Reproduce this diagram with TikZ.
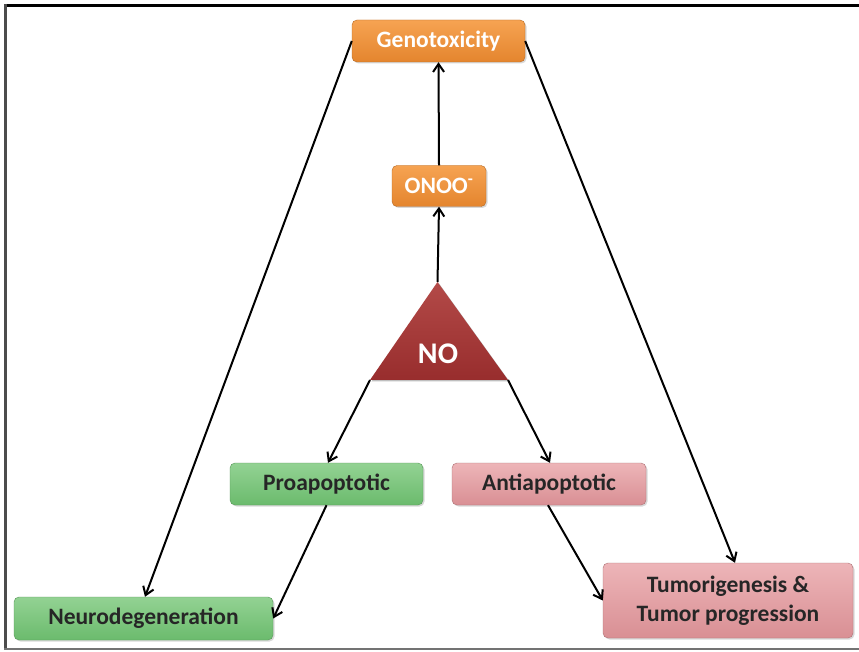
\documentclass[tikz,border=0pt]{standalone}
\usepackage{fontspec}
\setmainfont{Carlito}
\usetikzlibrary{arrows.meta,shadows}
\definecolor{orA}{HTML}{F6A352}
\definecolor{orB}{HTML}{E4852E}
\definecolor{grA}{HTML}{93D293}
\definecolor{grB}{HTML}{6BBB6D}
\definecolor{pkA}{HTML}{EDB5B8}
\definecolor{pkB}{HTML}{D98F94}
\definecolor{trA}{HTML}{B34A48}
\definecolor{trB}{HTML}{982D2D}
\tikzset{
  box/.style={rounded corners=5pt, inner sep=0pt, align=center,
    font=\bfseries\fontsize{23.5}{29}\selectfont,
    drop shadow={shadow xshift=1.5pt,shadow yshift=-1.5pt,opacity=0.3}},
  orbox/.style={box, top color=orA, bottom color=orB, draw=orB!80!black, text=white},
  grbox/.style={box, top color=grA, bottom color=grB, draw=grB!80!black, text=black!85},
  pkbox/.style={box, top color=pkA, bottom color=pkB, draw=pkB!80!black, text=black!85},
  conn/.style={line width=2pt, -{Straight Barb[length=8pt,width=11pt,line width=2pt]}}
}
\begin{document}
\begin{tikzpicture}[x=1pt,y=1pt]
\useasboundingbox (0,0) rectangle (859,651);
\fill[white] (0,0) rectangle (859,651);
\draw[line width=3pt, black] (4,645.5) -- (859,645.5);
\draw[line width=2.5pt, black!70] (5.5,647) -- (5.5,2);
\draw[line width=2pt, black!55] (4,2.5) -- (859,2.5);

\node[orbox, minimum width=173pt, minimum height=42pt] (geno) at (438.5,610) {Genotoxicity};
\node[orbox, minimum width=94pt, minimum height=41pt] (onoo) at (439,465) {ONOO\textsuperscript{-}};
\node[grbox, minimum width=193pt, minimum height=42pt] (pro) at (326.5,167) {Proapoptotic};
\node[pkbox, minimum width=194pt, minimum height=42pt] (anti) at (549,167) {Antiapoptotic};
\node[grbox, minimum width=259pt, minimum height=43pt] (neuro) at (143.5,32.5) {Neurodegeneration};
\node[pkbox, minimum width=250pt, minimum height=75pt] (tumor) at (728,50.5) {Tumorigenesis \&\\Tumor progression};

\coordinate (apex) at (437.5,369);
\coordinate (bl) at (370,271);
\coordinate (br) at (508,271);
\fill[black, opacity=0.25] ([xshift=1.5pt,yshift=-1.5pt]apex) -- ([xshift=1.5pt,yshift=-1.5pt]br) -- ([xshift=1.5pt,yshift=-1.5pt]bl) -- cycle;
\shade[top color=trA, bottom color=trB] (apex) -- (br) -- (bl) -- cycle;
\node[text=white, font=\bfseries\fontsize{30}{33}\selectfont] (no) at (438,297) {NO};

\draw[conn] (onoo.north) -- (geno.south);
\draw[conn] (apex) -- (onoo.south);
\draw[conn] (bl) -- ([xshift=1.5pt]pro.north);
\draw[conn] (br) -- ([xshift=1pt]anti.north);
\draw[conn] (geno.west) -- ([xshift=1.5pt]neuro.north);
\draw[conn] (geno.east) -- ([xshift=7pt]tumor.north);
\draw[conn] (pro.south) -- (neuro.east);
\draw[conn] ([xshift=-1pt]anti.south) -- (tumor.west);
\end{tikzpicture}
\end{document}
